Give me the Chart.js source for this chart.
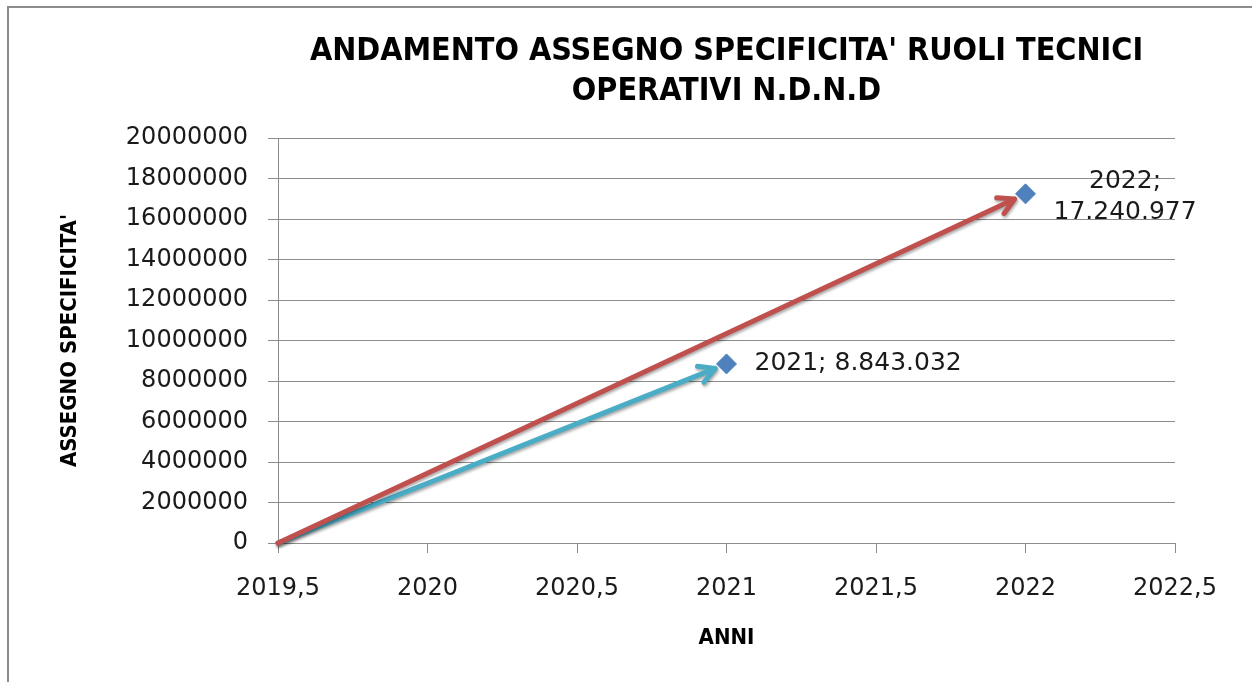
<!DOCTYPE html>
<html lang="it">
<head>
<meta charset="utf-8">
<title>Andamento assegno specificita'</title>
<script src="https://cdn.jsdelivr.net/npm/chart.js@4.4.1/dist/chart.umd.min.js"></script>
<style>
    html, body { margin: 0; padding: 0; background: #fff; overflow: hidden; }
    #wrap { position: relative; width: 1252px; height: 682px; }
    #frame {
        position: absolute; left: 7px; top: 6px; width: 1260px; height: 700px;
        border-left: 2px solid #8c8c8c; border-top: 2px solid #8c8c8c;
        pointer-events: none;
    }
    canvas { position: absolute; left: 0; top: 0; }
</style>
</head>
<body>
<div id="wrap">
    <canvas id="chart" width="1252" height="682" style="width:1252px;height:682px"></canvas>
    <div id="frame"></div>
</div>
<script>
// ====== Data ======
const years = [2021, 2022];
const amounts = [8843032, 17240977];
const arrowOrigin = [2019.5, 0];
const arrowColors = ['#4bacc6', '#c0504d'];

const titleLines = ["ANDAMENTO ASSEGNO SPECIFICITA' RUOLI TECNICI", 'OPERATIVI N.D.N.D'];
const xTitle = 'ANNI';
const yTitle = "ASSEGNO SPECIFICITA'";

const TICK_FONT = { family: '"DejaVu Sans", Verdana, sans-serif', size: 24 };
const LABEL_SIZE = 25;
const BOLD_FONT = '"Liberation Sans Narrow", "DejaVu Sans Condensed", "Arial Narrow", sans-serif';

// ====== Plugins ======
// arrows from the origin towards each point (drawn under the markers)
const arrowsPlugin = {
    id: 'arrows',
    beforeDatasetsDraw(chart) {
        const { ctx, scales: { x, y } } = chart;
        const x0 = x.getPixelForValue(arrowOrigin[0]);
        const y0 = y.getPixelForValue(arrowOrigin[1]);

        years.forEach((yr, i) => {
            const px = x.getPixelForValue(yr);
            const py = y.getPixelForValue(amounts[i]);
            const dx = px - x0, dy = py - y0;
            const len = Math.sqrt(dx * dx + dy * dy);
            const ux = dx / len, uy = dy / len;
            const tx = px - ux * 12, ty = py - uy * 12;   // stop short of the marker
            const head = 18, spread = 0.5;
            const ang = Math.atan2(uy, ux);

            ctx.save();
            ctx.strokeStyle = arrowColors[i];
            ctx.lineWidth = 5;
            ctx.lineCap = 'round';
            ctx.lineJoin = 'round';
            ctx.shadowColor = 'rgba(0,0,0,0.35)';
            ctx.shadowBlur = 3;
            ctx.shadowOffsetX = 1;
            ctx.shadowOffsetY = 2;
            ctx.beginPath();
            ctx.moveTo(x0, y0);
            ctx.lineTo(tx, ty);
            ctx.moveTo(tx - head * Math.cos(ang - spread), ty - head * Math.sin(ang - spread));
            ctx.lineTo(tx, ty);
            ctx.lineTo(tx - head * Math.cos(ang + spread), ty - head * Math.sin(ang + spread));
            ctx.stroke();
            ctx.restore();
        });
    }
};

// "anno; valore" labels to the right of the markers
const pointLabelsPlugin = {
    id: 'pointLabels',
    afterDatasetsDraw(chart) {
        const { ctx } = chart;
        const meta = chart.getDatasetMeta(0);
        ctx.save();
        ctx.font = `${LABEL_SIZE}px ${TICK_FONT.family}`;
        ctx.fillStyle = '#1a1a1a';
        ctx.textBaseline = 'middle';

        meta.data.forEach((pt, i) => {
            const text = `${years[i]}; ${amounts[i].toLocaleString('it-IT')}`;
            const left = pt.x + 28;
            if (left + ctx.measureText(text).width < chart.width - 20) {
                ctx.textAlign = 'left';
                ctx.fillText(text, left, pt.y);
            } else {
                // not enough room: wrap after the year, centred in its box
                const lines = [`${years[i]};`, amounts[i].toLocaleString('it-IT')];
                const w = Math.max(...lines.map(l => ctx.measureText(l).width));
                const lh = 31;
                ctx.textAlign = 'center';
                lines.forEach((l, k) => {
                    ctx.fillText(l, left + w / 2, pt.y - lh / 2 + 3 + k * lh);
                });
            }
        });
        ctx.restore();
    }
};

// ====== Chart ======
const ctx = document.getElementById('chart').getContext('2d');
new Chart(ctx, {
    type: 'scatter',
    data: {
        datasets: [{
            label: 'Assegno',
            data: years.map((yr, i) => ({ x: yr, y: amounts[i] })),
            pointStyle: 'rectRot',
            pointRadius: 10,
            pointHoverRadius: 10,
            backgroundColor: '#4f81bd',
            borderColor: '#4f81bd',
            borderWidth: 1
        }]
    },
    options: {
        responsive: false,
        animation: false,
        layout: { padding: { left: 0, right: 77, top: 0, bottom: 0 } },
        plugins: {
            legend: { display: false },
            tooltip: { enabled: false },
            title: {
                display: true,
                text: titleLines,
                fullSize: false,
                color: '#000',
                font: { family: BOLD_FONT, size: 32, weight: 'bold', lineHeight: 1.25 },
                padding: { top: 32, bottom: 26 }
            }
        },
        scales: {
            x: {
                type: 'linear',
                min: 2019.5,
                max: 2022.5,
                afterFit(scale) { scale.height = 139; },
                ticks: {
                    stepSize: 0.5,
                    color: '#1a1a1a',
                    font: TICK_FONT,
                    padding: 21,
                    maxRotation: 0,
                    callback: v => String(v).replace('.', ',')
                },
                grid: { drawOnChartArea: false, drawTicks: true, tickLength: 10, color: '#8c8c8c' },
                border: { display: true, color: '#8c8c8c', width: 1 },
                title: {
                    display: true,
                    text: xTitle,
                    color: '#000',
                    font: { family: BOLD_FONT, size: 22, weight: 'bold' },
                    padding: { top: 0, bottom: 31 }
                }
            },
            y: {
                min: 0,
                max: 20000000,
                afterFit(scale) { scale.width = 278; },
                ticks: {
                    stepSize: 2000000,
                    color: '#1a1a1a',
                    font: TICK_FONT,
                    padding: 20,
                    callback: v => String(v)
                },
                grid: { color: '#8c8c8c', tickLength: 10, lineWidth: 1 },
                border: { display: true, color: '#8c8c8c', width: 1 },
                title: {
                    display: true,
                    text: yTitle,
                    color: '#000',
                    font: { family: BOLD_FONT, size: 22, weight: 'bold' },
                    padding: { top: 57, bottom: 0 }
                }
            }
        }
    },
    plugins: [arrowsPlugin, pointLabelsPlugin]
});
</script>
</body>
</html>
